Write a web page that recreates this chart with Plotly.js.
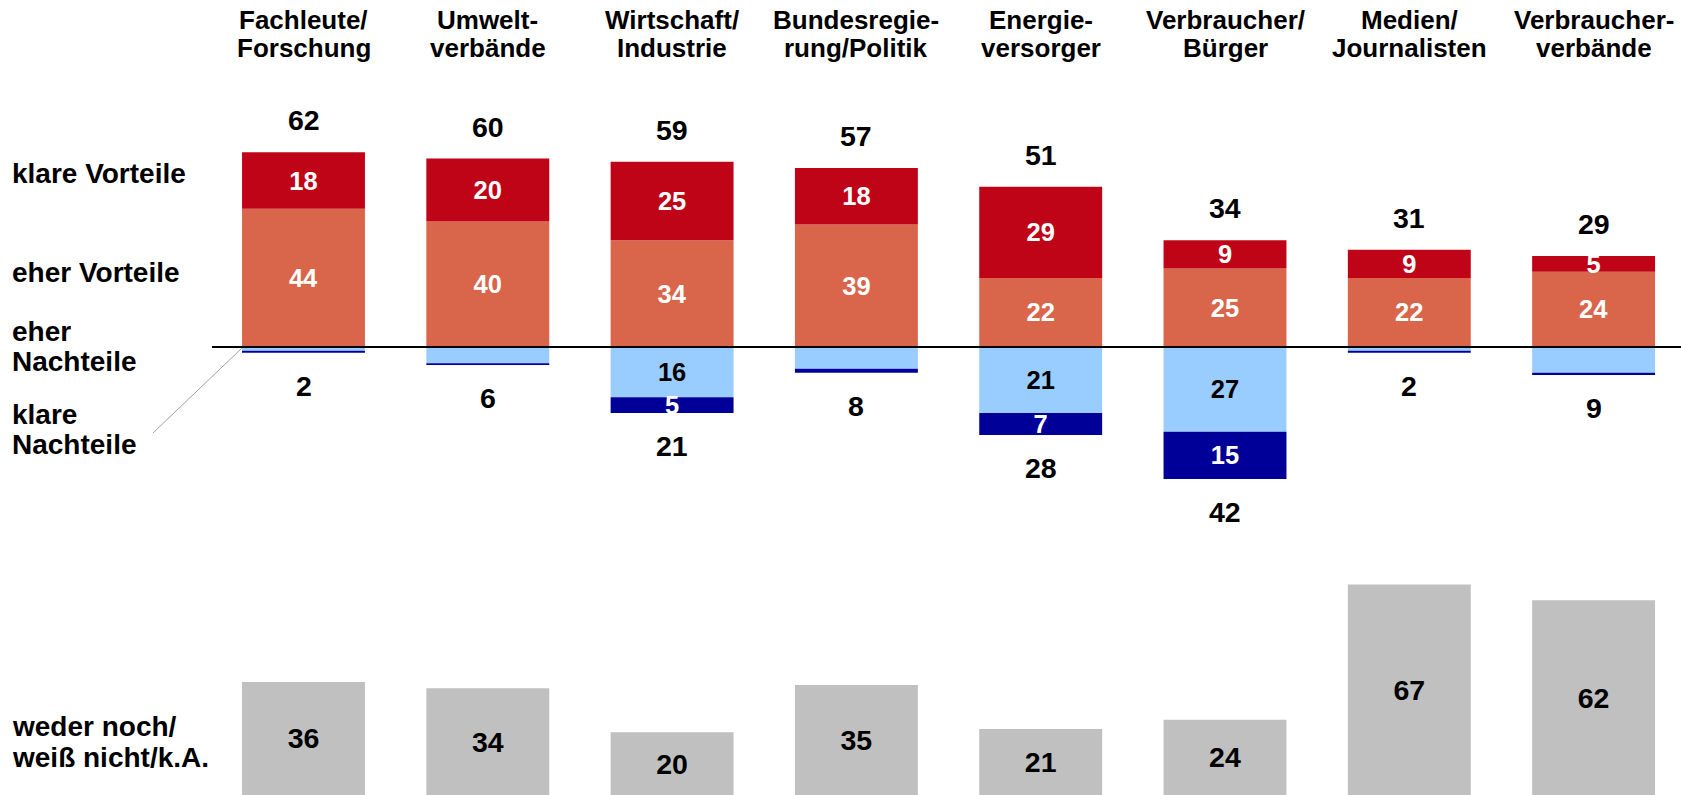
<!DOCTYPE html>
<html><head><meta charset="utf-8">
<script src="https://cdn.plot.ly/plotly-3.0.1.min.js"></script>
<style>html,body{margin:0;padding:0;background:#fff}#chart{width:1681px;height:795px}</style>
</head><body><div id="chart"></div>
<script>
// ---- data ----
const categories = ['Fachleute/\nForschung','Umwelt-\nverbände','Wirtschaft/\nIndustrie','Bundesregie-\nrung/Politik','Energie-\nversorger','Verbraucher/\nBürger','Medien/\nJournalisten','Verbraucher-\nverbände'];
const klareVorteile  = [18, 20, 25, 18, 29, 9, 9, 5];
const eherVorteile   = [44, 40, 34, 39, 22, 25, 22, 24];
const eherNachteile  = [1.2, 5.2, 16, 6.9, 21, 27, 1.2, 8.2];
const klareNachteile = [0.6, 0.5, 5, 1.3, 7, 15, 0.6, 0.7];
const wederNoch      = [36, 34, 20, 35, 21, 24, 67, 62];
const eherNachteileLabelled  = [false, false, true, false, true, true, false, false];
const klareNachteileLabelled = [false, false, true, false, true, true, false, false];
const rowLabels = [['klare Vorteile'], ['eher Vorteile'], ['eher', 'Nachteile'], ['klare', 'Nachteile'], ['weder noch/', 'weiß nicht/k.A.']];

// ---- style / layout helpers ----
const W = 1681, H = 795;
const py = p => 1 - p / H;
const FONT = 'Liberation Sans, Arial, Helvetica, sans-serif';
const colors = {kv: '#C00418', ev: '#D9664A', en: '#99CCFF', kn: '#000099', wn: '#C0C0C0'};
const rowLabelY = [[174], [272.5], [331.5, 361.5], [414.5, 444], [726, 757.5]];

const fnt = (size, color) => ({family: FONT, size: size, color: color, weight: 700});

const barBase = {type: 'bar', x: categories, textposition: 'inside', insidetextanchor: 'middle', textangle: 0,
  constraintext: 'none', hoverinfo: 'skip', marker: {line: {width: 0}}};

const traces = [
  Object.assign({}, barBase, {y: eherVorteile, text: eherVorteile.map(String), marker: {color: colors.ev},
    textfont: fnt(25.5, '#FFFFFF')}),
  Object.assign({}, barBase, {y: klareVorteile, text: klareVorteile.map(String), marker: {color: colors.kv},
    textfont: fnt(25.5, '#FFFFFF')}),
  Object.assign({}, barBase, {y: eherNachteile.map(v => -v),
    text: eherNachteile.map((v, i) => eherNachteileLabelled[i] ? String(Math.round(v)) : ''),
    marker: {color: colors.en}, textfont: fnt(25.5, '#000000')}),
  Object.assign({}, barBase, {y: klareNachteile.map(v => -v),
    text: klareNachteile.map((v, i) => klareNachteileLabelled[i] ? String(Math.round(v)) : ''),
    marker: {color: colors.kn}, textfont: fnt(25.5, '#FFFFFF')}),
  Object.assign({}, barBase, {y: wederNoch, yaxis: 'y2', text: wederNoch.map(String),
    marker: {color: colors.wn}, textfont: fnt(28.5, '#000000')})
];

const posTotals = klareVorteile.map((v, i) => v + eherVorteile[i]);
const negTotals = klareNachteile.map((v, i) => v + eherNachteile[i]);

const annotations = [];
categories.forEach((c, i) => {
  const lines = c.split('\n');
  lines.forEach((ln, k) => annotations.push({x: c, xref: 'x', y: py(k === 0 ? 20 : 47.6), yref: 'paper',
    text: ln, showarrow: false, xanchor: 'center', yanchor: 'middle', font: fnt(26, '#000000')}));
  annotations.push({x: c, xref: 'x', y: posTotals[i], yref: 'y', yshift: 32, text: String(Math.round(posTotals[i])),
    showarrow: false, xanchor: 'center', yanchor: 'middle', font: fnt(28.5, '#000000')});
  annotations.push({x: c, xref: 'x', y: -negTotals[i], yref: 'y', yshift: -33, text: String(Math.round(negTotals[i])),
    showarrow: false, xanchor: 'center', yanchor: 'middle', font: fnt(28.5, '#000000')});
});
rowLabels.forEach((lines, r) => lines.forEach((ln, k) => annotations.push({
  x: 10 / W, xref: 'paper', y: py(rowLabelY[r][k]), yref: 'paper', text: ln, showarrow: false,
  xanchor: 'left', yanchor: 'middle', font: fnt(28, '#000000')})));

const pxPerUnit = 3.14, zeroPx = 347, splitPx = 520;
const layout = {
  width: W, height: H, margin: {l: 0, r: 0, t: 0, b: 0}, paper_bgcolor: '#FFFFFF', plot_bgcolor: 'rgba(0,0,0,0)',
  showlegend: false, barmode: 'relative', bargap: 0.333,
  xaxis: {type: 'category', range: [-303.5 / 184.3, -303.5 / 184.3 + W / 184.3], visible: false, fixedrange: true},
  yaxis: {domain: [py(splitPx), 1], range: [-(splitPx - zeroPx) / pxPerUnit, zeroPx / pxPerUnit], visible: false, fixedrange: true},
  yaxis2: {domain: [0, py(splitPx)], range: [0, (H - splitPx) / pxPerUnit], visible: false, anchor: 'x', fixedrange: true},
  shapes: [
    {type: 'line', xref: 'paper', yref: 'y', x0: 212 / W, x1: 1, y0: 0, y1: 0, line: {color: '#000000', width: 2}, layer: 'above'},
    {type: 'line', xref: 'paper', yref: 'paper', x0: 242 / W, y0: py(348), x1: 153 / W, y1: py(433), line: {color: '#A0A0A0', width: 1}}
  ],
  annotations: annotations
};
Plotly.newPlot('chart', traces, layout, {displayModeBar: false, staticPlot: true});
</script></body></html>
